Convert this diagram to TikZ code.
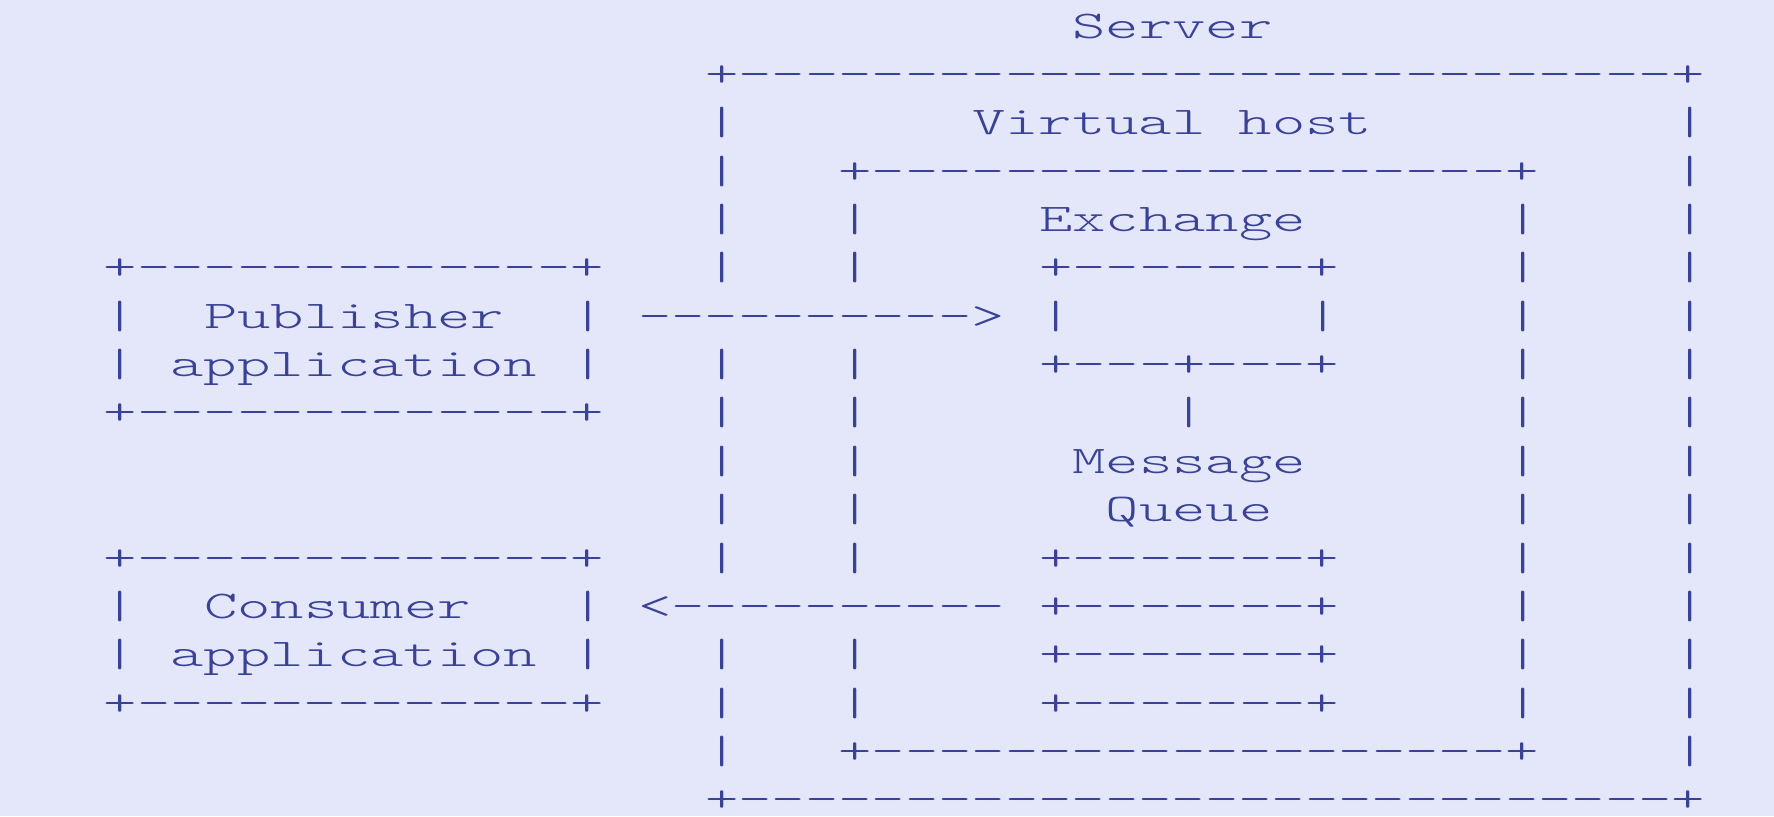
\documentclass[tikz,border=0pt]{standalone}
\usepackage{fontspec}
\usepackage{graphicx}
\newfontfamily\asciifont{lmmonolt10-regular.otf}
\definecolor{bgcol}{RGB}{227,231,249}
\definecolor{inkcol}{RGB}{58,66,150}
\newcommand{\xs}{1.62}
\newcommand{\seg}[4]{\node[txt] (#1) at ({103.8+33.4*#2},{38+48.37*#3}) {\scalebox{\xs}[1]{#4}};}
\begin{document}
\begin{tikzpicture}[x=0.5pt,y=-0.5pt,
  txt/.style={anchor=base west,inner sep=0pt,outer sep=0pt,text=inkcol,
    font=\asciifont\fontsize{19.6}{20}\selectfont}]
\fill[bgcol] (0,0) rectangle (1774,816);
\useasboundingbox (0,0) rectangle (1774,816);
% row 0
\seg{server}{29}{0}{Server}
% row 1
\seg{srvtop}{18}{1}{+----------------------------+}
% row 2
\seg{s2l}{18}{2}{|}
\seg{vhost}{26}{2}{Virtual host}
\seg{s2r}{47}{2}{|}
% row 3
\seg{s3l}{18}{3}{|}
\seg{vhtop}{22}{3}{+-------------------+}
\seg{s3r}{47}{3}{|}
% row 4
\seg{s4l}{18}{4}{|}
\seg{v4l}{22}{4}{|}
\seg{exch}{28}{4}{Exchange}
\seg{v4r}{42}{4}{|}
\seg{s4r}{47}{4}{|}
% row 5
\seg{pubtop}{0}{5}{+-------------+}
\seg{s5l}{18}{5}{|}
\seg{v5l}{22}{5}{|}
\seg{extop}{28}{5}{+-------+}
\seg{v5r}{42}{5}{|}
\seg{s5r}{47}{5}{|}
% row 6
\seg{p6l}{0}{6}{|}
\seg{pubtxt}{3}{6}{Publisher}
\seg{p6r}{14}{6}{|}
\seg{pubarrow}{16}{6}{---------->}
\seg{e6l}{28}{6}{|}
\seg{e6r}{36}{6}{|}
\seg{v6r}{42}{6}{|}
\seg{s6r}{47}{6}{|}
% row 7
\seg{p7l}{0}{7}{|}
\seg{pubapp}{2}{7}{application}
\seg{p7r}{14}{7}{|}
\seg{s7l}{18}{7}{|}
\seg{v7l}{22}{7}{|}
\seg{exbot}{28}{7}{+---+---+}
\seg{v7r}{42}{7}{|}
\seg{s7r}{47}{7}{|}
% row 8
\seg{pubbot}{0}{8}{+-------------+}
\seg{s8l}{18}{8}{|}
\seg{v8l}{22}{8}{|}
\seg{bind}{32}{8}{|}
\seg{v8r}{42}{8}{|}
\seg{s8r}{47}{8}{|}
% row 9
\seg{s9l}{18}{9}{|}
\seg{v9l}{22}{9}{|}
\seg{msg}{29}{9}{Message}
\seg{v9r}{42}{9}{|}
\seg{s9r}{47}{9}{|}
% row 10
\seg{s10l}{18}{10}{|}
\seg{v10l}{22}{10}{|}
\seg{queue}{30}{10}{Queue}
\seg{v10r}{42}{10}{|}
\seg{s10r}{47}{10}{|}
% row 11
\seg{contop}{0}{11}{+-------------+}
\seg{s11l}{18}{11}{|}
\seg{v11l}{22}{11}{|}
\seg{q1}{28}{11}{+-------+}
\seg{v11r}{42}{11}{|}
\seg{s11r}{47}{11}{|}
% row 12
\seg{c12l}{0}{12}{|}
\seg{contxt}{3}{12}{Consumer}
\seg{c12r}{14}{12}{|}
\seg{conarrow}{16}{12}{<----------}
\seg{q2}{28}{12}{+-------+}
\seg{v12r}{42}{12}{|}
\seg{s12r}{47}{12}{|}
% row 13
\seg{c13l}{0}{13}{|}
\seg{conapp}{2}{13}{application}
\seg{c13r}{14}{13}{|}
\seg{s13l}{18}{13}{|}
\seg{v13l}{22}{13}{|}
\seg{q3}{28}{13}{+-------+}
\seg{v13r}{42}{13}{|}
\seg{s13r}{47}{13}{|}
% row 14
\seg{conbot}{0}{14}{+-------------+}
\seg{s14l}{18}{14}{|}
\seg{v14l}{22}{14}{|}
\seg{q4}{28}{14}{+-------+}
\seg{v14r}{42}{14}{|}
\seg{s14r}{47}{14}{|}
% row 15
\seg{s15l}{18}{15}{|}
\seg{vhbot}{22}{15}{+-------------------+}
\seg{s15r}{47}{15}{|}
% row 16
\seg{srvbot}{18}{16}{+----------------------------+}
\end{tikzpicture}
\end{document}
